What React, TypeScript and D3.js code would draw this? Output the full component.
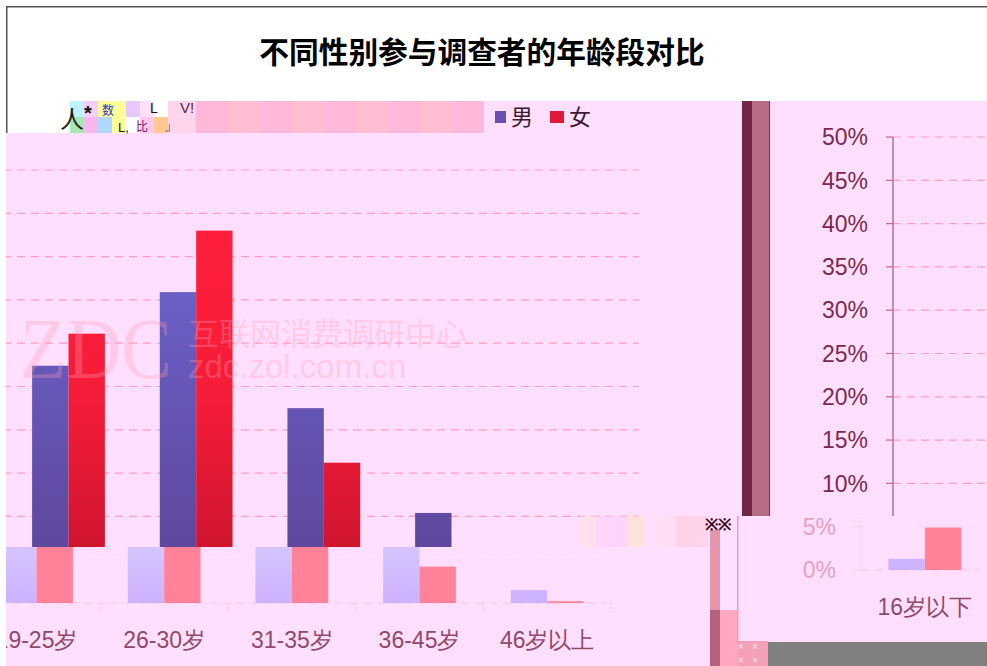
import React from 'react';
import * as d3 from 'd3';

const categories = ['16岁以下', '19-25岁', '26-30岁', '31-35岁', '36-45岁', '46岁以上'];
const seriesNames = ['男', '女'];
const maleValues = [1.3, 27.4, 35.9, 22.5, 10.4, 1.5];
const femaleValues = [4.9, 31.1, 43.0, 16.2, 4.2, 0.2];
const tickValues = [0, 5, 10, 15, 20, 25, 30, 35, 40, 45, 50];

// broken tiles of the source image
const stripeColors = ['#FFB8DA', '#FFBED2'];
const noiseTop = ['#BDF3FF', '#F4D0F4', '#FFFF99', '#FFFF99', '#E8C8FF', '#FFE0F8', '#FFFFFF'];
const noiseBottom = ['#A8E8B0', '#F7B8F0', '#B0D8FF', '#FFFF99', '#FFFFFF', '#FFC8EC', '#FFC890'];
const fadedColors = ['#FFE0E0', '#FFD0F8', '#FFCCF8', '#FFE4C0', '#FFDDF5', '#FFDCEC', '#FFC8DC', '#FFCCDD'];

const width = 987;
const height = 666;
const bg = '#FFDFFD';
const font = '"Liberation Sans", Arial, sans-serif';
const cjk = '"Noto Sans CJK SC", "Liberation Sans", sans-serif';

const x = d3.scaleBand<string>().domain(categories).range([-123, 643]).paddingInner(0.43).paddingOuter(0.215);
const xInner = d3.scaleBand<string>().domain(seriesNames).range([0, x.bandwidth()]);
const y = d3.scaleLinear().domain([0, 50]).range([603, 170]);

type LayerProps = { id: string; dx: number; dy: number; light?: boolean; cats: string[]; ticks: number[] };

function Layer({ id, dx, dy, light, cats, ticks }: LayerProps) {
  const lineColor = light ? '#FFC4DC' : '#FF9DBF';
  const axisColor = light ? '#FFD0E4' : '#B5708E';
  return (
    <g clipPath={`url(#${id})`}>
      <g transform={`translate(${dx},${dy})`}>
        {tickValues.map(t => (
          <line
            key={t}
            x1={-123}
            x2={639}
            y1={y(t)}
            y2={y(t)}
            stroke={lineColor}
            strokeWidth={1.2}
            strokeDasharray="8 6"
            opacity={light && t !== 0 ? 0.2 : 1}
          />
        ))}
        {cats.map(c => {
          const i = categories.indexOf(c);
          return (
            <g key={c} transform={`translate(${x(c)},0)`}>
              <rect
                x={xInner('男')}
                y={y(maleValues[i])}
                width={xInner.bandwidth()}
                height={y(0) - y(maleValues[i])}
                fill={light ? 'url(#maleLight)' : 'url(#male)'}
              />
              <rect
                x={xInner('女')}
                y={y(femaleValues[i])}
                width={xInner.bandwidth()}
                height={y(0) - y(femaleValues[i])}
                fill={light ? '#FF8299' : 'url(#female)'}
              />
              {light && (
                <>
                  <line
                    x1={x.bandwidth() + (x.step() - x.bandwidth()) / 2}
                    x2={x.bandwidth() + (x.step() - x.bandwidth()) / 2}
                    y1={603}
                    y2={612}
                    stroke="#FFB8D0"
                    strokeDasharray="2 2"
                  />
                  <text
                    x={x.bandwidth() / 2}
                    y={648}
                    textAnchor="middle"
                    fontFamily={font}
                    fontSize={23}
                    fill="#8E4A68"
                  >
                    {c}
                  </text>
                </>
              )}
            </g>
          );
        })}
        {/* y axis */}
        {ticks.length > 0 && (
          <line x1={-123} x2={-123} y1={y(50)} y2={y(0)} stroke={axisColor} strokeWidth={1.5} strokeDasharray={light ? '2 2' : undefined} />
        )}
        {ticks.map(t => (
          <g key={t} transform={`translate(-123,${y(t)})`}>
            <line x1={-7} x2={0} stroke={axisColor} strokeWidth={1.2} />
            <text
              x={-25}
              dy="0.36em"
              textAnchor="end"
              fontFamily={font}
              fontSize={23}
              fill={light ? '#E7A0BE' : '#7A2A4E'}
            >
              {t}%
            </text>
          </g>
        ))}
      </g>
    </g>
  );
}

export default function App() {
  const leftCats = categories.slice(1);
  const rightCats = categories.slice(0, 1);
  return (
    <svg width={width} height={height} style={{ position: 'absolute', left: 0, top: 0, display: 'block', background: '#fff' }}>
      <defs>
        <linearGradient id="male" gradientUnits="userSpaceOnUse" x1="0" x2="0" y1="290" y2="547">
          <stop offset="0" stopColor="#6A60C6" />
          <stop offset="1" stopColor="#5F479E" />
        </linearGradient>
        <linearGradient id="female" gradientUnits="userSpaceOnUse" x1="0" x2="0" y1="230" y2="547">
          <stop offset="0" stopColor="#FF1F3C" />
          <stop offset="0.55" stopColor="#F41C38" />
          <stop offset="1" stopColor="#CF152E" />
        </linearGradient>
        <linearGradient id="maleLight" gradientUnits="userSpaceOnUse" x1="0" x2="0" y1="547" y2="603">
          <stop offset="0" stopColor="#D6C4FF" />
          <stop offset="1" stopColor="#CDB2FF" />
        </linearGradient>
        <clipPath id="leftUpper"><rect x={6} y={133} width={733} height={414} /></clipPath>
        <clipPath id="leftLower"><rect x={6} y={547} width={704} height={119} /></clipPath>
        <clipPath id="rightUpper"><rect x={770} y={101} width={217} height={415} /></clipPath>
        <clipPath id="rightLower"><rect x={738} y={516} width={249} height={125} /></clipPath>
      </defs>

      {/* page frame */}
      <rect x={6} y={6} width={981} height={1.5} fill="#555" />
      <rect x={6} y={6} width={1.5} height={127} fill="#555" />
      <text
        x={482}
        y={63}
        textAnchor="middle"
        fontFamily={cjk}
        fontWeight="bold"
        fontSize={29.7}
        fill="#000"
      >
        不同性别参与调查者的年龄段对比
      </text>

      {/* panels */}
      <rect x={6} y={133} width={981} height={533} fill={bg} />
      <rect x={180} y={101} width={807} height={32} fill={bg} />

      <Layer id="leftUpper" dx={0} dy={0} cats={leftCats} ticks={[]} />
      <Layer id="leftLower" dx={-32} dy={0} light cats={leftCats} ticks={[]} />
      <Layer id="rightUpper" dx={1016} dy={-33} cats={rightCats} ticks={tickValues.slice(2)} />
      <Layer id="rightLower" dx={984} dy={-33} light cats={rightCats} ticks={tickValues.slice(0, 2)} />

      {/* watermark */}
      <g fill="#FF9DB4" opacity={0.3}>
        <text x={20} y={378} fontFamily='"Liberation Serif", serif' fontSize={86} textLength={152} lengthAdjust="spacingAndGlyphs">ZDC</text>
        <text x={188} y={345} fontFamily={cjk} fontSize={31}>互联网消费调研中心</text>
        <text x={188} y={378} fontFamily={font} fontSize={33}>zdc.zol.com.cn</text>
      </g>

      {/* garbled legend tile */}
      {d3.range(9).map(i => (
        <rect key={i} x={196 + i * 32} y={101} width={32} height={32} fill={stripeColors[i % 2]} />
      ))}
      {noiseTop.map((c, i) => (
        <rect key={i} x={70 + i * 14} y={101} width={14} height={16} fill={c} />
      ))}
      {noiseBottom.map((c, i) => (
        <rect key={i} x={70 + i * 14} y={117} width={14} height={16} fill={c} />
      ))}
      <rect x={168} y={101} width={28} height={32} fill="#FFD4EC" />
      <text x={60} y={128} fontFamily={cjk} fontSize={24} fill="#222">人</text>
      <text x={84} y={120} fontFamily={font} fontSize={20} fontWeight="bold" fill="#111">*</text>
      <text x={102} y={115} fontFamily={cjk} fontSize={12} fill="#3030D0">数</text>
      <text x={118} y={132} fontFamily={font} fontSize={13} fill="#222">L,</text>
      <text x={136} y={131} fontFamily={cjk} fontSize={12} fill="#702070">比</text>
      <text x={150} y={113} fontFamily={font} fontSize={14} fill="#111">L</text>
      <text x={164} y={130} fontFamily={font} fontSize={14} fill="#111">」</text>
      <text x={180} y={113} fontFamily={font} fontSize={15} fill="#5A2A4A">V!</text>

      {/* legend */}
      <rect x={495} y={111} width={11} height={12} fill="#6A4FB0" />
      <text x={511} y={125} fontFamily={cjk} fontSize={22} fill="#3A1A2E">{seriesNames[0]}</text>
      <rect x={550} y={111} width={14} height={12} fill="#E0183A" />
      <text x={569} y={125} fontFamily={cjk} fontSize={22} fill="#3A1A2E">{seriesNames[1]}</text>

      {/* gutter between tiles */}
      <rect x={742} y={101} width={10} height={415} fill="#722646" />
      <rect x={752} y={101} width={17} height={415} fill="#B86B87" />
      <rect x={769} y={101} width={1} height={415} fill="#7A3350" />

      {fadedColors.map((c, i) => (
        <rect key={i} x={580 + i * 16} y={516} width={16} height={31} fill={c} opacity={0.6} />
      ))}
      <rect x={710} y={530} width={10} height={80} fill="#E595AB" />
      <rect x={710} y={610} width={10} height={56} fill="#B5627F" />
      <rect x={720} y={610} width={18} height={56} fill="#FFA8BF" />
      <rect x={737} y={516} width={1.5} height={126} fill="#E8A0B8" />
      <text x={705} y={530} fontFamily={font} fontSize={16} fontWeight="bold" fill="#3A0A20">※※</text>
      <rect x={738} y={641} width={30} height={25} fill="#F4A0B8" />
      <text x={738} y={650} fontFamily={font} fontSize={10} fill="#FFE8F0">×</text>
      <text x={752} y={650} fontFamily={font} fontSize={10} fill="#FFE8F0">×</text>
      <text x={738} y={664} fontFamily={font} fontSize={10} fill="#FFE8F0">×</text>
      <text x={752} y={664} fontFamily={font} fontSize={10} fill="#FFE8F0">×</text>
      <rect x={768} y={642} width={219} height={24} fill="#808080" />
    </svg>
  );
}
